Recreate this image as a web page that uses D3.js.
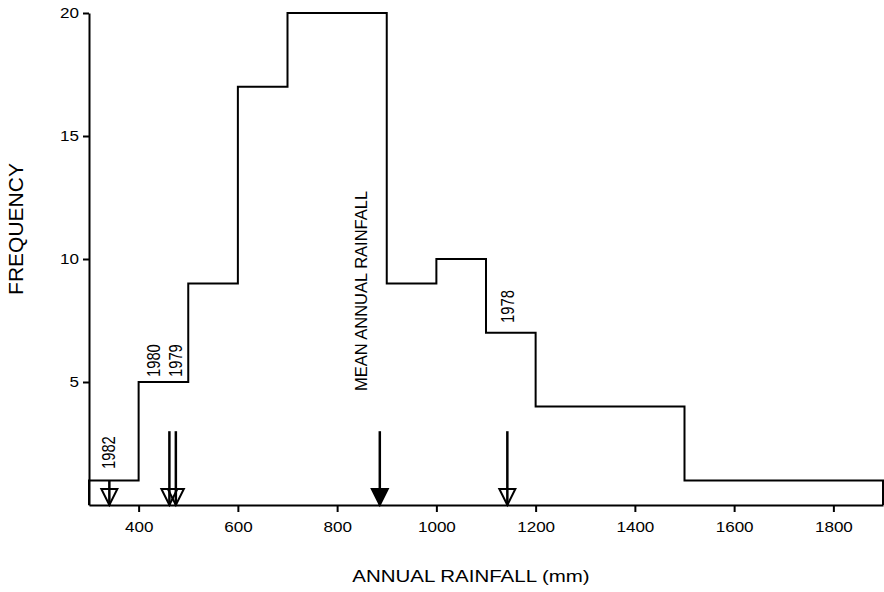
<!DOCTYPE html>
<html>
<head>
<meta charset="utf-8">
<script src="https://cdn.jsdelivr.net/npm/d3@7"></script>
<style>
  html, body { margin: 0; padding: 0; background: #fff; }
  svg { display: block; }
  text { font-family: "Liberation Sans", Arial, Helvetica, sans-serif; fill: #000; }
</style>
</head>
<body>
<svg id="chart" width="884" height="592"></svg>
<script>
// ---- data ----
const binEdges = [300, 400, 500, 600, 700, 900, 1000, 1100, 1200, 1500, 1900];
const binCounts = [1, 5, 9, 17, 20, 9, 10, 7, 4, 1];
const xTicks = [400, 600, 800, 1000, 1200, 1400, 1600, 1800];
const yTicks = [5, 10, 15, 20];
const arrowYears = ["1982", "1980", "1979", "MEAN", "1978"];
const arrowValues = [341, 462, 475, 886, 1143];
const arrowFilled = [false, false, false, true, false];
const labelTexts = ["1982", "1980", "1979", "MEAN ANNUAL RAINFALL", "1978"];
const labelAtX = [339, 430, 473, 849, 1142];
const labelAtY = [1.46, 5.2, 5.2, 4.63, 7.4];

// ---- layout ----
const svg = d3.select("#chart");
const x = d3.scaleLinear().domain([300, 1900]).range([89, 883]);
const y = d3.scaleLinear().domain([0, 20]).range([505, 13]);
const stretch = 1.22;

// histogram outline
const pts = [];
pts.push([binEdges[0], 0]);
binCounts.forEach((c, i) => {
  pts.push([binEdges[i], c]);
  pts.push([binEdges[i + 1], c]);
});
pts.push([binEdges[binEdges.length - 1], 0]);
svg.append("path")
  .attr("d", d3.line().x(d => x(d[0])).y(d => y(d[1]))(pts))
  .attr("fill", "none").attr("stroke", "#000").attr("stroke-width", 2)
  .attr("stroke-linejoin", "miter");

// axes
const xAxis = svg.append("g").attr("transform", `translate(0,${y(0)})`)
  .call(d3.axisBottom(x).tickValues(xTicks).tickFormat(d3.format("d"))
    .tickSize(7).tickSizeOuter(0).tickPadding(10));
const yAxis = svg.append("g").attr("transform", `translate(${x(300)},0)`)
  .call(d3.axisLeft(y).tickValues(yTicks).tickFormat(d3.format("d"))
    .tickSize(6).tickSizeOuter(0).tickPadding(4));
[xAxis, yAxis].forEach(g => {
  g.select(".domain").attr("stroke", "#000").attr("stroke-width", 2);
  g.selectAll(".tick line").attr("stroke", "#000").attr("stroke-width", 2);
  g.selectAll(".tick text").attr("font-size", 14)
    .attr("font-family", "Liberation Sans, Arial, sans-serif").attr("fill", "#000");
});
xAxis.selectAll(".tick text").each(function () {
  const t = d3.select(this);
  const yy = +t.attr("y");
  t.attr("y", 0).attr("transform", `translate(0,${yy}) scale(${stretch},1)`);
});
yAxis.selectAll(".tick text").each(function () {
  const t = d3.select(this);
  const xx = +t.attr("x");
  t.attr("x", 0).attr("transform", `translate(${xx},0) scale(${stretch},1)`);
});

// arrows
const arrowTop = 3;
const headH = 16, headHalf = 8;
arrowValues.forEach((v, i) => {
  const ax = x(v);
  const binIdx = d3.bisectRight(binEdges, v) - 1;
  const topVal = Math.min(arrowTop, binCounts[binIdx]);
  svg.append("line")
    .attr("x1", ax).attr("x2", ax)
    .attr("y1", y(topVal)).attr("y2", y(0))
    .attr("stroke", "#000").attr("stroke-width", 2.5);
  const by = y(0);
  svg.append("path")
    .attr("d", `M${ax - headHalf},${by - headH}L${ax + headHalf},${by - headH}L${ax},${by}Z`)
    .attr("fill", arrowFilled[i] ? "#000" : "none")
    .attr("stroke", "#000").attr("stroke-width", 2).attr("stroke-linejoin", "miter");
});

// labels
labelTexts.forEach((t, i) => {
  const isMean = t.length > 6;
  svg.append("text")
    .attr("transform", `translate(${x(labelAtX[i])},${y(labelAtY[i])}) scale(${isMean ? 1 : 1.25},1) rotate(-90)`)
    .attr("text-anchor", "start")
    .attr("dy", "0.36em")
    .attr("font-size", isMean ? 16.5 : 14.8)
    .text(t);
});

// axis titles
svg.append("text")
  .attr("transform", `translate(471,582) scale(${stretch},1)`)
  .attr("text-anchor", "middle")
  .attr("font-size", 16.8)
  .text("ANNUAL RAINFALL (mm)");

svg.append("text")
  .attr("transform", "translate(15,229) rotate(-90)")
  .attr("text-anchor", "middle")
  .attr("dy", "0.36em")
  .attr("font-size", 21)
  .text("FREQUENCY");
</script>
</body>
</html>
